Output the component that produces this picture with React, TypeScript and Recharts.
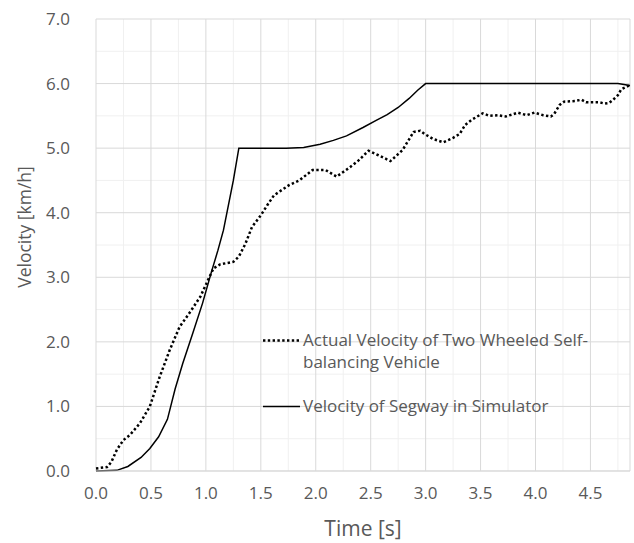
import { LineChart, Line, XAxis, YAxis, CartesianGrid, Legend } from 'recharts'

const segwayTime = [0, 0.19, 0.29, 0.41, 0.49, 0.57, 0.65, 0.68, 0.72, 0.79, 0.88, 0.97, 1.05, 1.11, 1.16, 1.25, 1.3, 1.73, 1.89, 2.04, 2.16, 2.28, 2.43, 2.55, 2.65, 2.75, 2.85, 2.93, 3.0, 4.75, 4.86]
const segwayVelocity = [0, 0.01, 0.07, 0.21, 0.35, 0.53, 0.8, 1.0, 1.27, 1.67, 2.13, 2.6, 3.08, 3.42, 3.73, 4.5, 5.0, 5.0, 5.01, 5.06, 5.12, 5.19, 5.32, 5.43, 5.52, 5.63, 5.77, 5.9, 6.0, 6.0, 5.97]

const actualTime = [0, 0.1, 0.14, 0.19, 0.25, 0.31, 0.4, 0.49, 0.58, 0.67, 0.76, 0.86, 0.95, 1.02, 1.07, 1.13, 1.25, 1.3, 1.36, 1.42, 1.5, 1.56, 1.62, 1.76, 1.85, 1.97, 2.09, 2.19, 2.3, 2.39, 2.48, 2.57, 2.68, 2.79, 2.89, 2.95, 2.99, 3.07, 3.16, 3.25, 3.31, 3.36, 3.42, 3.52, 3.58, 3.66, 3.73, 3.84, 3.92, 3.99, 4.07, 4.14, 4.17, 4.22, 4.26, 4.36, 4.42, 4.46, 4.58, 4.63, 4.67, 4.7, 4.75, 4.78, 4.84, 4.86]
const actualVelocity = [0.04, 0.06, 0.14, 0.33, 0.48, 0.56, 0.74, 1.0, 1.46, 1.87, 2.23, 2.47, 2.7, 2.96, 3.14, 3.2, 3.24, 3.32, 3.52, 3.78, 3.96, 4.12, 4.27, 4.43, 4.5, 4.66, 4.66, 4.56, 4.69, 4.81, 4.96, 4.89, 4.8, 4.97, 5.25, 5.27, 5.22, 5.14, 5.09, 5.16, 5.22, 5.36, 5.44, 5.54, 5.5, 5.51, 5.49, 5.55, 5.51, 5.55, 5.51, 5.49, 5.53, 5.67, 5.72, 5.73, 5.75, 5.71, 5.71, 5.69, 5.7, 5.74, 5.82, 5.91, 5.96, 5.98]

const xTicks = [0, 0.5, 1, 1.5, 2, 2.5, 3, 3.5, 4, 4.5]
const xMinor = [0.25, 0.75, 1.25, 1.75, 2.25, 2.75, 3.25, 3.75, 4.25, 4.75]
const yTicks = [0, 1, 2, 3, 4, 5, 6, 7]
const yMinor = [0.5, 1.5, 2.5, 3.5, 4.5, 5.5, 6.5]

const actualName = 'Actual Velocity of Two Wheeled Self-\nbalancing Vehicle'
const segwayName = 'Velocity of Segway in Simulator'

const actualData = actualTime.map((t, i) => ({ t, v: actualVelocity[i] }))
const segwayData = segwayTime.map((t, i) => ({ t, v: segwayVelocity[i] }))

const FONT = '"Open Sans", sans-serif'
const TEXT = '#595959'

const dashFor: Record<string, string | undefined> = {
  [actualName]: '2.4 2.4',
  [segwayName]: undefined,
}

function LegendBox({ payload }: any) {
  return (
    <div style={{ fontFamily: FONT, fontSize: 17, color: TEXT }}>
      {(payload || []).map((entry: any, i: number) => (
        <div key={i} style={{ display: 'flex', alignItems: 'flex-start', marginBottom: 22 }}>
          <svg width={40} height={22} style={{ flex: 'none' }}>
            <line
              x1={0}
              x2={dashFor[entry.value] ? 36 : 37}
              y1={11.5}
              y2={11.5}
              stroke="#000"
              strokeWidth={dashFor[entry.value] ? 2.5 : 1.5}
              strokeDasharray={dashFor[entry.value]}
            />
          </svg>
          <span style={{ whiteSpace: 'pre-line', lineHeight: '22px', textAlign: 'left' }}>{entry.value}</span>
        </div>
      ))}
    </div>
  )
}

export default function App() {
  return (
    <div style={{ position: 'absolute', left: 0, top: 0, width: 634, height: 543, background: '#fff' }}>
      <LineChart width={634} height={543} margin={{ top: 19, right: 4, left: 0, bottom: 0 }}>
        <CartesianGrid stroke="#f0f0f0" strokeWidth={1} verticalValues={xMinor} horizontalValues={yMinor} />
        <CartesianGrid stroke="#d9d9d9" strokeWidth={1} />
        <XAxis
          dataKey="t"
          type="number"
          domain={[0, 4.86]}
          ticks={xTicks}
          allowDuplicatedCategory={false}
          tickFormatter={(v: number) => v.toFixed(1)}
          tick={{ fill: TEXT, fontSize: 17, fontFamily: FONT }}
          axisLine={{ stroke: '#d9d9d9' }}
          tickLine={false}
          tickSize={0}
          tickMargin={16}
          height={72}
        />
        <YAxis
          type="number"
          domain={[0, 7]}
          ticks={yTicks}
          tickFormatter={(v: number) => v.toFixed(1)}
          tick={{ fill: TEXT, fontSize: 17, fontFamily: FONT }}
          axisLine={false}
          tickLine={false}
          tickSize={0}
          tickMargin={26}
          width={96}
        />
        <Legend
          layout="vertical"
          align="center"
          verticalAlign="middle"
          content={<LegendBox />}
          wrapperStyle={{ position: 'absolute', left: 263, top: 329, width: 370, bottom: 'auto' }}
        />
        <Line
          data={actualData}
          dataKey="v"
          name={actualName}
          type="linear"
          stroke="#000"
          strokeWidth={2.5}
          strokeDasharray="2.4 2.4"
          dot={false}
          activeDot={false}
          isAnimationActive={false}
        />
        <Line
          data={segwayData}
          dataKey="v"
          name={segwayName}
          type="linear"
          stroke="#000"
          strokeWidth={1.5}
          dot={false}
          activeDot={false}
          isAnimationActive={false}
        />
      </LineChart>
      <div
        style={{
          position: 'absolute',
          left: 363,
          top: 528,
          transform: 'translate(-50%, -50%)',
          fontFamily: FONT,
          fontSize: 21,
          color: TEXT,
          whiteSpace: 'nowrap',
        }}
      >
        Time [s]
      </div>
      <div
        style={{
          position: 'absolute',
          left: 24,
          top: 227,
          transform: 'translate(-50%, -50%) rotate(-90deg)',
          fontFamily: FONT,
          fontSize: 17.5,
          color: TEXT,
          whiteSpace: 'nowrap',
        }}
      >
        Velocity [km/h]
      </div>
    </div>
  )
}
